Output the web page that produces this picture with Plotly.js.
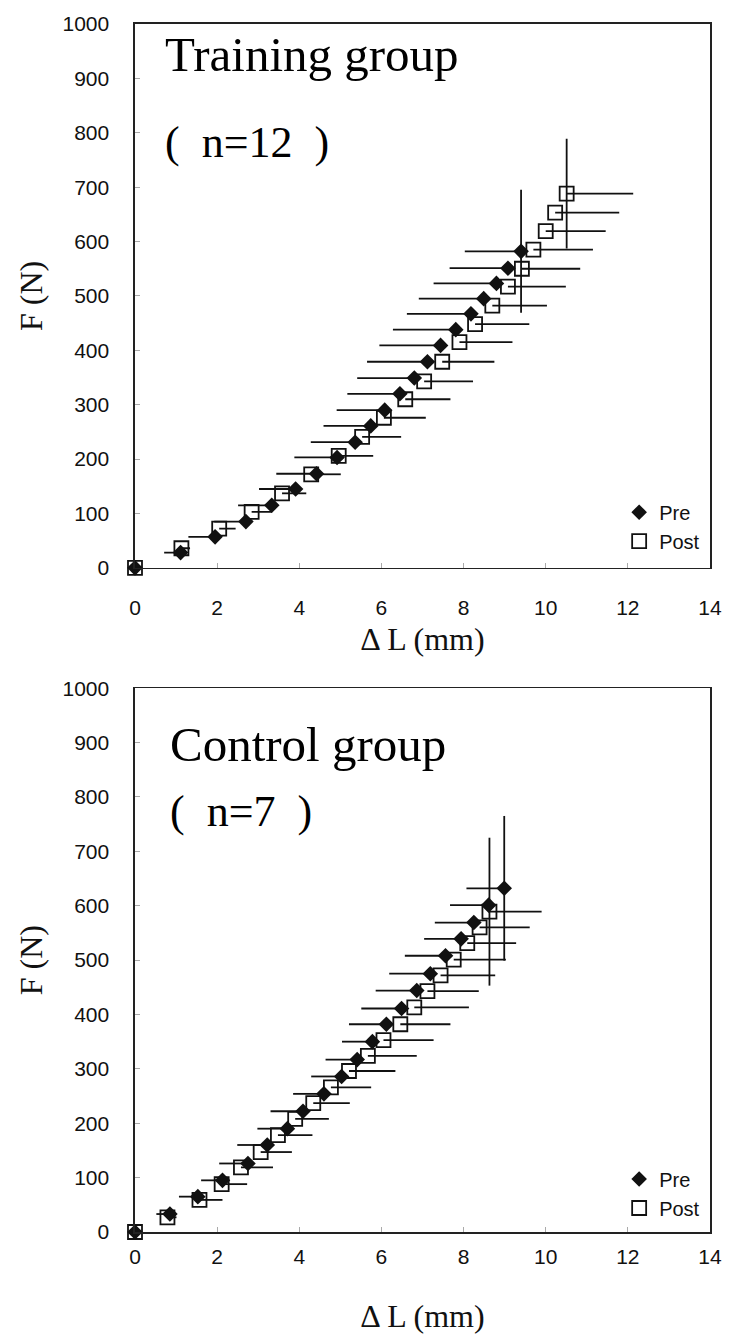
<!DOCTYPE html>
<html>
<head>
<meta charset="utf-8">
<script src="https://cdn.plot.ly/plotly-3.0.1.min.js"></script>
<style>html,body{margin:0;padding:0;background:#fff;}#chart{width:734px;height:1340px;}</style>
</head>
<body>
<div id="chart"></div>
<script>
// ---- Training group (n=12) ----
const trainPreDL  = [0, 1.11, 1.95, 2.70, 3.33, 3.91, 4.42, 4.92, 5.36, 5.74, 6.08, 6.45, 6.80, 7.12, 7.44, 7.81, 8.18, 8.49, 8.80, 9.08, 9.40];
const trainPreF   = [0, 28, 57, 85, 115, 145, 173, 203, 231, 261, 290, 320, 349, 379, 409, 438, 467, 495, 523, 551, 582];
const trainPreSdDL = [0, 0.40, 0.65, 0.77, 0.82, 0.89, 0.98, 1.04, 1.08, 1.15, 1.17, 1.28, 1.39, 1.47, 1.49, 1.53, 1.56, 1.58, 1.53, 1.42, 1.37];
const trainPreSdF  = [0, 0, 0, 0, 0, 0, 0, 0, 0, 0, 0, 0, 0, 0, 0, 0, 0, 0, 0, 0, 113];

const trainPostDL  = [0, 1.13, 2.05, 2.84, 3.58, 4.29, 4.96, 5.53, 6.06, 6.58, 7.04, 7.48, 7.90, 8.28, 8.70, 9.08, 9.42, 9.70, 10.00, 10.23, 10.51];
const trainPostF   = [0, 36, 72, 103, 137, 172, 206, 241, 276, 310, 343, 379, 415, 448, 482, 517, 550, 585, 619, 653, 688];
const trainPostSdDL = [0, 0.21, 0.40, 0.50, 0.59, 0.72, 0.84, 0.95, 1.02, 1.10, 1.19, 1.27, 1.29, 1.32, 1.33, 1.41, 1.42, 1.45, 1.46, 1.56, 1.62];
const trainPostSdF  = [0, 0, 0, 0, 0, 0, 0, 0, 0, 0, 0, 0, 0, 0, 0, 0, 0, 0, 0, 0, 101];

// ---- Control group (n=7) ----
const ctrlPreDL  = [0, 0.85, 1.53, 2.13, 2.75, 3.22, 3.71, 4.09, 4.60, 5.03, 5.41, 5.78, 6.12, 6.49, 6.86, 7.19, 7.56, 7.94, 8.25, 8.61, 8.99];
const ctrlPreF   = [0, 33, 65, 95, 126, 160, 190, 222, 254, 286, 317, 350, 382, 411, 444, 475, 508, 539, 569, 601, 632];
const ctrlPreSdDL = [0, 0.33, 0.46, 0.52, 0.70, 0.73, 0.73, 0.79, 0.75, 0.74, 0.77, 0.74, 0.91, 0.98, 1.00, 1.00, 0.99, 0.90, 0.95, 0.94, 0.92];
const ctrlPreSdF  = [0, 0, 0, 0, 0, 0, 0, 0, 0, 0, 0, 0, 0, 0, 0, 0, 0, 0, 0, 0, 133];

const ctrlPostDL  = [0, 0.79, 1.57, 2.11, 2.58, 3.06, 3.48, 3.90, 4.34, 4.77, 5.21, 5.67, 6.05, 6.46, 6.80, 7.12, 7.44, 7.76, 8.09, 8.39, 8.63];
const ctrlPostF   = [0, 27, 59, 88, 119, 147, 178, 208, 237, 266, 296, 324, 353, 382, 413, 443, 472, 501, 531, 560, 589];
const ctrlPostSdDL = [0, 0.22, 0.56, 0.62, 0.78, 0.76, 0.84, 0.82, 0.89, 0.98, 1.13, 1.19, 1.22, 1.22, 1.33, 1.25, 1.33, 1.27, 1.19, 1.22, 1.27];
const ctrlPostSdF  = [0, 0, 0, 0, 0, 0, 0, 0, 0, 0, 0, 0, 0, 0, 0, 0, 0, 0, 0, 0, 136];

const seriesNames = ['Pre', 'Post'];
const groupTitles = ['Training group', 'Control group'];
const groupNs = ['(\u2002n=12\u2002)', '(\u2002n=7\u2002)'];
const xTitle = '\u0394 L (mm)';
const yTitle = 'F (N)';

const INK = '#111';
function preTrace(x, y, sdx, sdy, xa, ya, leg) {
  return {
    type: 'scatter', mode: 'markers', name: seriesNames[0], x: x, y: y,
    xaxis: xa, yaxis: ya, legend: leg, legendrank: 1, cliponaxis: false,
    marker: {symbol: 'diamond', size: 12, color: INK, line: {width: 0}},
    error_x: {type: 'data', symmetric: false, array: [], arrayminus: sdx, color: INK, thickness: 1.8, width: 0},
    error_y: {type: 'data', symmetric: true, array: sdy, color: INK, thickness: 1.8, width: 0}
  };
}
function postTrace(x, y, sdx, sdy, xa, ya, leg) {
  return {
    type: 'scatter', mode: 'markers', name: seriesNames[1], x: x, y: y,
    xaxis: xa, yaxis: ya, legend: leg, legendrank: 2, cliponaxis: false,
    marker: {symbol: 'square-open', size: 14, color: INK, line: {width: 1.8, color: INK}},
    error_x: {type: 'data', symmetric: false, array: sdx, arrayminus: [], color: INK, thickness: 1.8, width: 0},
    error_y: {type: 'data', symmetric: true, array: sdy, color: INK, thickness: 1.8, width: 0}
  };
}

const data = [
  postTrace(trainPostDL, trainPostF, trainPostSdDL, trainPostSdF, 'x', 'y', 'legend'),
  preTrace(trainPreDL, trainPreF, trainPreSdDL, trainPreSdF, 'x', 'y', 'legend'),
  postTrace(ctrlPostDL, ctrlPostF, ctrlPostSdDL, ctrlPostSdF, 'x2', 'y2', 'legend2'),
  preTrace(ctrlPreDL, ctrlPreF, ctrlPreSdDL, ctrlPreSdF, 'x2', 'y2', 'legend2')
];

const tickFont = {family: 'Liberation Sans, Arial, sans-serif', size: 21, color: '#111'};
const titleFont = {family: 'Liberation Serif, Times New Roman, serif', size: 32, color: '#111'};
function xAxis(anchor, standoffLbl, titleStandoff) {
  return {
    anchor: anchor, domain: [0, 1], range: [0, 14], tick0: 0, dtick: 2,
    showline: true, mirror: true, linecolor: '#222', linewidth: 1.6,
    ticks: 'inside', ticklen: 5, tickcolor: '#aaa', tickwidth: 1,
    showgrid: false, zeroline: false, tickfont: tickFont, ticklabelstandoff: standoffLbl,
    automargin: true,
    title: {text: xTitle, font: titleFont, standoff: titleStandoff}
  };
}
function yAxis(anchor, domain) {
  return {
    anchor: anchor, domain: domain, range: [0, 1000], tick0: 0, dtick: 100,
    showline: true, mirror: true, linecolor: '#222', linewidth: 1.6,
    ticks: 'inside', ticklen: 5, tickcolor: '#aaa', tickwidth: 1,
    showgrid: false, zeroline: false, tickfont: tickFont, ticklabelstandoff: 20,
    automargin: true,
    title: {text: yTitle, font: titleFont, standoff: 10}
  };
}
const legendStyle = {
  font: {family: 'Liberation Sans, Arial, sans-serif', size: 20, color: '#111'},
  bgcolor: 'rgba(0,0,0,0)', borderwidth: 0, itemwidth: 30, tracegroupgap: 0,
  xanchor: 'left', yanchor: 'top', traceorder: 'normal'
};
const bigFont = {family: 'Liberation Serif, Times New Roman, serif', size: 49, color: '#000'};
const nFont = {family: 'Liberation Serif, Times New Roman, serif', size: 44, color: '#000'};

const layout = {
  width: 734, height: 1340,
  margin: {l: 135, r: 17, t: 21, b: 105},
  paper_bgcolor: '#fff', plot_bgcolor: '#fff',
  showlegend: true,
  xaxis: xAxis('y', 20, 10),
  yaxis: yAxis('x', [0.5498, 1]),
  xaxis2: xAxis('y2', 5, 38),
  yaxis2: yAxis('x2', [0, 0.4502]),
  legend: Object.assign({x: 0.842, y: 0.612}, legendStyle),
  legend2: Object.assign({x: 0.842, y: 0.060}, legendStyle),
  annotations: [
    {xref: 'x', yref: 'y', x: 0.68, y: 944, xanchor: 'left', yanchor: 'middle', text: groupTitles[0], showarrow: false, font: bigFont},
    {xref: 'x', yref: 'y', x: 0.68, y: 783, xanchor: 'left', yanchor: 'middle', text: groupNs[0], showarrow: false, font: nFont},
    {xref: 'x2', yref: 'y2', x: 0.8, y: 897, xanchor: 'left', yanchor: 'middle', text: groupTitles[1], showarrow: false, font: bigFont},
    {xref: 'x2', yref: 'y2', x: 0.8, y: 773, xanchor: 'left', yanchor: 'middle', text: groupNs[1], showarrow: false, font: nFont}
  ]
};

Plotly.newPlot('chart', data, layout, {displayModeBar: false, staticPlot: true});
</script>
</body>
</html>
